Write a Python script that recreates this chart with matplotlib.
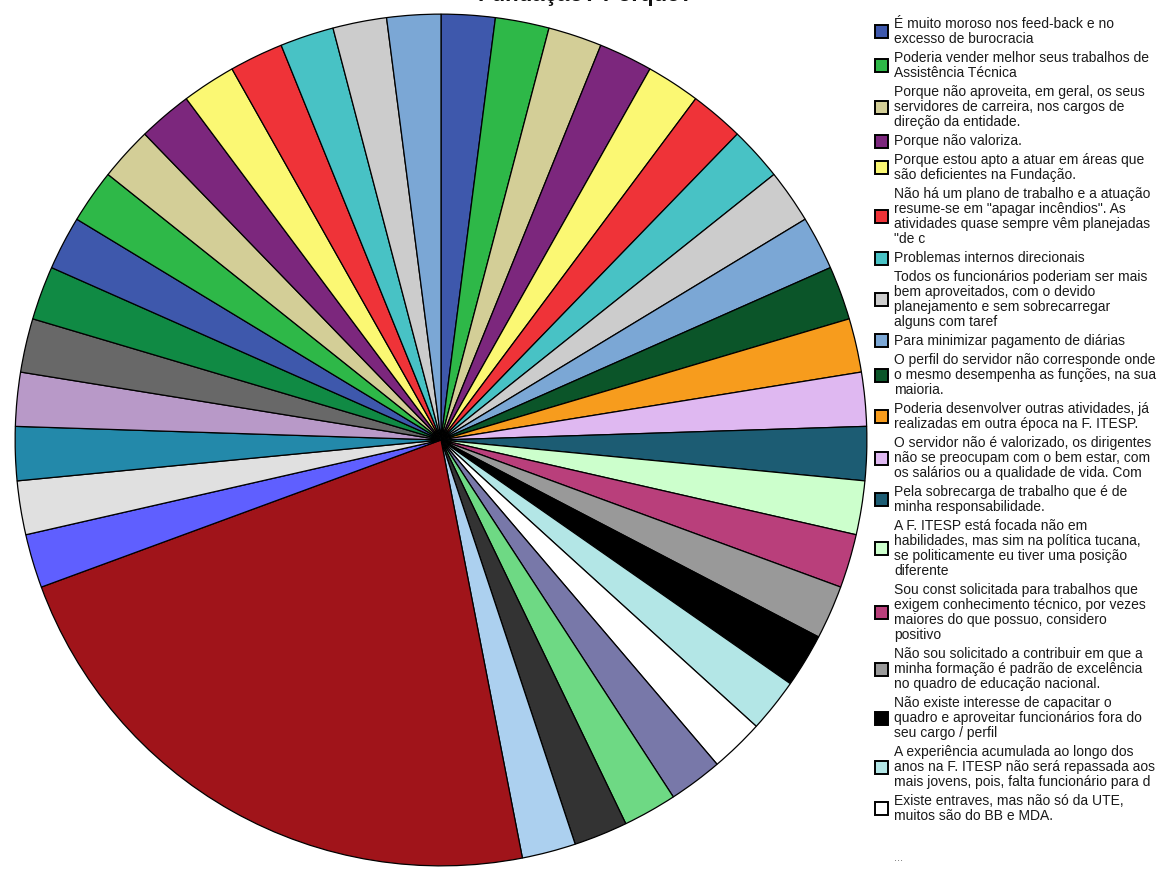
import matplotlib
matplotlib.use("Agg")
import matplotlib.pyplot as plt
from matplotlib.patches import Rectangle

plt.rcParams['font.family'] = ['Liberation Sans', 'DejaVu Sans']

# ---------------- data ----------------
title_text = "Fundação? Porque?"

legend_labels = [
    "É muito moroso nos feed-back e no\nexcesso de burocracia",
    "Poderia vender melhor seus trabalhos de\nAssistência Técnica",
    "Porque não aproveita, em geral, os seus\nservidores de carreira, nos cargos de\ndireção da entidade.",
    "Porque não valoriza.",
    "Porque estou apto a atuar em áreas que\nsão deficientes na Fundação.",
    "Não há um plano de trabalho e a atuação\nresume-se em \"apagar incêndios\". As\natividades quase sempre vêm planejadas\n\"de c",
    "Problemas internos direcionais",
    "Todos os funcionários poderiam ser mais\nbem aproveitados, com o devido\nplanejamento e sem sobrecarregar\nalguns com taref",
    "Para minimizar pagamento de diárias",
    "O perfil do servidor não corresponde onde\no mesmo desempenha as funções, na sua\nmaioria.",
    "Poderia desenvolver outras atividades, já\nrealizadas em outra época na F. ITESP.",
    "O servidor não é valorizado, os dirigentes\nnão se preocupam com o bem estar, com\nos salários ou a qualidade de vida. Com",
    "Pela sobrecarga de trabalho que é de\nminha responsabilidade.",
    "A F. ITESP está focada não em\nhabilidades, mas sim na política tucana,\nse politicamente eu tiver uma posição\ndiferente",
    "Sou const solicitada para trabalhos que\nexigem conhecimento técnico, por vezes\nmaiores do que possuo, considero\npositivo",
    "Não sou solicitado a contribuir em que a\nminha formação é padrão de excelência\nno quadro de educação nacional.",
    "Não existe interesse de capacitar o\nquadro e aproveitar funcionários fora do\nseu cargo / perfil",
    "A experiência acumulada ao longo dos\nanos na F. ITESP não será repassada aos\nmais jovens, pois, falta funcionário para d",
    "Existe entraves, mas não só da UTE,\nmuitos são do BB e MDA.",
]

# counts per answer (clockwise from 12 o'clock); big slice = most frequent answer
values = [1] * 23 + [11] + [1] * 15

colors = [
    "#3e58ac", "#2eb848", "#d3ce97", "#7c277d", "#fbf873", "#ef3338",
    "#48c2c5", "#cccccc", "#7ba7d5", "#0b5529", "#f79c1d", "#dfb8f1",
    "#1c5c73", "#ccffcc", "#b93f7b", "#999999", "#000000", "#b3e6e6",
    "#ffffff", "#7878a9", "#6ed984", "#333333", "#acd0ef", "#a0141a",
    "#5f5fff", "#e0e0e0", "#2389aa", "#b899c8", "#686868", "#108a44",
    "#3e58ac", "#2eb848", "#d3ce97", "#7c277d", "#fbf873", "#ef3338",
    "#48c2c5", "#cccccc", "#7ba7d5",
]

# ---------------- figure ----------------
W, H = 1160, 873
fig = plt.figure(figsize=(W / 100, H / 100), dpi=100)

cx, cy, r = 441, 440, 428  # pixel layout of pie
ax = fig.add_axes([(cx - r) / W, (H - cy - r) / H, 2 * r / W, 2 * r / H])
ax.pie(values, colors=colors, startangle=90, counterclock=False, radius=1,
       wedgeprops=dict(edgecolor="black", linewidth=0.9))
ax.set_xlim(-1.005, 1.005)
ax.set_ylim(-1.005, 1.005)
ax.set_aspect("equal")
ax.axis("off")

# title (mostly cut off at top of image, as in the reference)
fig.text(585 / W, 1 - 1.5 / H, title_text, ha="center", va="baseline",
         fontsize=16, fontweight="bold", color="#111111")

# ---------------- legend ----------------
line_h = 15.0
gap = 4.0
y = 24.0
box_x0, box_w = 875, 13
text_x = 894
for lab, col in zip(legend_labels, colors):
    lines = lab.split("\n")
    for k, ln in enumerate(lines):
        fig.text(text_x / W, 1 - (y + k * line_h) / H, ln, ha="left",
                 va="center", fontsize=10.0, color="#1a1a1a")
    mid = y + (len(lines) - 1) * line_h / 2
    fig.add_artist(Rectangle((box_x0 / W, 1 - (mid + box_w / 2) / H),
                             box_w / W, box_w / H, transform=fig.transFigure,
                             facecolor=col, edgecolor="black", linewidth=1.4))
    y += len(lines) * line_h + gap

fig.text(text_x / W, 1 - 858 / H, "...", ha="left", va="center",
         fontsize=8, color="#666666")

fig.savefig("out.png", dpi=100)
